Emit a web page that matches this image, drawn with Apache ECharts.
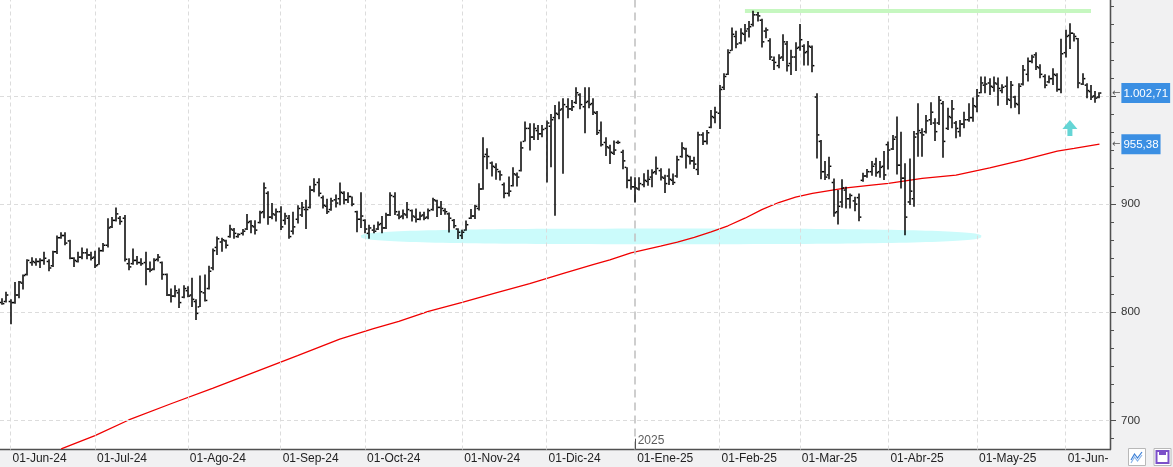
<!DOCTYPE html>
<html><head><meta charset="utf-8">
<script src="https://cdn.jsdelivr.net/npm/echarts@6/dist/echarts.min.js"></script>
<style>html,body{margin:0;padding:0;background:#f1f1f2}#c{width:1173px;height:467px}</style>
</head><body><div id="c"></div>
<script>
// ---------- data ----------
const startDate = '2024-05-30';
const holidays = ['2024-07-04','2024-09-02','2024-11-28','2024-12-25','2025-01-01','2025-01-09','2025-01-20','2025-02-17','2025-04-18','2025-05-26'];
const trailingSlots = 2;
const monthNames = ['Ene','Feb','Mar','Abr','May','Jun','Jul','Ago','Sep','Oct','Nov','Dic'];

const opens = [809,810,810,809,816,827,835,846,846,847,848,847,843,856,869,871,866,850,847,851,855,853,851,844,857,862,879,885,887,887,
845,845,848,846,846,840,840,849,846,835,816,815,818,814,820,816,810,805,818,822,841,860,865,866,870,876,870,873,877,884,
879,883,893,910,888,890,893,885,887,875,886,890,895,897,913,920,906,898,895,904,905,910,904,907,893,886,885,873,876,877,
882,878,890,907,890,889,890,894,888,886,890,888,895,903,897,894,891,885,877,871,876,887,889,896,914,946,938,934,930,918,
910,917,927,931,958,970,962,968,965,970,972,980,983,988,990,988,994,1001,990,995,993,984,968,957,952,947,957,948,934,922,
916,914,918,921,925,930,931,924,926,922,926,944,951,944,940,932,964,958,971,980,984,1008,1020,1042,1055,1049,1057,1062,1066,1075,
1070,1060,1051,1033,1028,1036,1048,1030,1036,1045,1046,1041,1045,999,958,930,927,920,893,902,913,905,903,906,922,926,930,937,930,935,
955,951,962,936,924,902,905,965,966,967,978,975,975,993,970,980,975,967,974,978,980,990,1003,1010,1012,1008,1011,1005,1009,996,
999,992,1011,1020,1032,1038,1026,1018,1013,1016,1019,1006,1040,1056,1058,1053,1011,1010,1004,1000,999];
const highs = [813,819,812,828,829,835,849,851,850,850,856,849,857,871,874,874,867,851,856,860,859,856,857,860,864,887,888,897,889,890,
850,859,852,850,856,847,850,854,847,836,822,825,822,825,824,832,812,834,835,843,859,870,869,867,881,878,873,877,891,885,
885,894,920,912,901,896,898,892,890,893,899,902,904,917,924,924,908,905,906,909,920,912,911,907,894,911,886,881,881,884,
889,892,911,911,894,895,902,895,896,893,893,896,906,904,903,896.3,892.3,886.2,877.8,876.3,884.9,895.4,899.4,919.4,961.8,951.7,939.4,937.8,931.1,920,
925.5,934.2,929.2,957.8,976.3,974.8,974.8,973.2,973.2,977.2,983.4,991.7,994.8,997.8,997.8,996.3,1008,1002.5,1008,1008,997.8,986.2,976.3,961.8,954.8,958.8,958.8,950.2,934.2,925.5,
924.9,924.9,928.6,931.7,932.3,944,933.2,927.1,933,928.4,944.8,957.1,952.2,944.8,943.8,967,966.4,968.5,987,990.1,1010.2,1021,1043.2,1063.3,1060.2,1062.7,1066.4,1069.4,1078.7,1077.5,
1071.3,1063.3,1053.4,1036.4,1038.6,1057.1,1050.9,1042.6,1049.7,1066.4,1047.8,1050.9,1046.6,1002.5,959.3,939.8,943.8,923.8,913,923.1,916,909.9,906.8,909.9,929,932.4,939.8,942.9,939.8,949.1,
958,963.9,980.9,967,937.7,942.3,967.6,993.2,970.1,982.4,994.1,979.3,1000,995.4,989.2,996.3,976.9,977.8,985.5,993.2,998.5,1006.5,1017.9,1017.9,1016.4,1017.9,1017,1010.8,1017.9,1013.9,
1000.3,1011.7,1028.7,1035.5,1038,1040.4,1029.3,1020.1,1018.8,1025.6,1021,1052.8,1061.1,1067.3,1058,1053.5,1021,1011.7,1010.2,1004.6,1003.4];
const lows = [807,809,789,808,813,821,834,843,843,841,844,838,842,854,868,862,849,842,846,849,849,848,841,844,856,860,878,884,881,847,
839,844,844,843,825,837,839,847,830,815,809,814,804,813,814,805,793,805,810,821,839,853,856,859,869,868,869,871,876,873,
872,882,887,881,886,884,876,881,868,872,882,888,877,896,911,907,896,891,894,897,899,900,901,898,874,878,873,868,873,876,
873,877,889,890,886,886,887,884,883,885,885,886,894,888,890,890.2,873.8,877.8,867.7,867.7,875.5,886.2,886.2,894.2,913.2,932.3,925.5,922.5,921.8,905.5,
907.1,916.3,916.3,930.2,957.8,949.5,959.4,959.4,961.8,920,934.2,889.2,978.5,928,979.4,986.2,992.5,987.7,965.5,988.6,982.5,964,953.2,944.6,937.2,945.5,955.7,932.3,914.8,913.2,
901.5,912.6,915.7,916.9,915.7,927.1,921.8,910.2,917.6,917.6,924.4,942.9,933,936.7,932.4,926.9,954.6,955.2,970.1,974.7,969.4,1005.6,1019.4,1041.7,1044.1,1047.8,1050.3,1054,1064.2,1068.8,
1044.8,1053.4,1033.3,1024.1,1025.6,1032.4,1022.5,1019.4,1023.1,1041.7,1028.1,1028.1,1021.9,942.3,923.1,922.2,923.1,888.3,881.2,896.6,896,896,893.5,884.3,920.7,924.4,926.2,925.3,924.4,922.2,
932,950,927.5,914.5,871.3,899.1,897.5,943.8,943.8,965.4,973.1,958.3,973.1,942.9,968.5,970.1,960.8,962.3,970.1,976.2,976.2,984.9,1002.5,1002.5,1000.9,1004,991,1002.5,991.7,988.6,
989.2,983,1009.6,1013.3,1030.2,1024.1,1016.4,1007.1,1011.7,1010.2,1004,1002.5,1035.5,1043.5,1050.3,1007.1,1010.2,997.8,996.3,993.8,997.8];
const closes = [808,816,809,816,828,834,848,847,847,848,850,841,856,869,871,864,850,848,851,855,853,850,843,857,862,878,885,891,884,849,
842,848,846,845,840,839,848,851,835,816,815,820,809,822,815,812,799,819,811,838,857,868,867,862,877,873,872,875,883,880,
876,892,915,888,891,893,879,889,870,879,896,897,895,913,918,910,899,893,903,901,911,904,907,900,886,889,877,878,875,881,
878,890,908,893,888,891,895,889,886,889,887,894,904,897,896,893,887,880,874,874,881,889,898,914,944,944,935,932,927,910,
912,928,925,952,970,962,970,965,969,975,978,984,987,992,988,990,1003,992,994,992,985,966,955,953,948,950,957,940,922,916,
915,919,922,923,929,933,925,919,923,920,941,952,945,940,937,964,958,966,981,985,1006,1018,1040,1057,1048,1058,1060,1064,1075,1074,
1050,1061,1036,1031,1035,1050,1028,1036,1044,1052,1040,1046,1028,964,930,925,935,892,898,915,905,908,900,888,926,930,935,929,934,927,
950,960,936,924,888,912,962,968,964,977,985,967,996,958,981,988,970,974,978,980,991,1000,1012,1011,1009,1012,1007,1008,997,1010,
993,1009,1024,1032,1036,1027,1020,1010,1016,1020,1006,1039,1055,1058,1055,1012,1016,1005,999,998,1002.71];

// 200-session moving average, read at selected sessions [sessionIndex, value]
const maPoints = [[14,673.8],[22,686.1],[30,700.5],[40,715.5],[50,730],[60,745],[70,760],[80,775.3],[88,785],[94,791.7],[101,800.9],
[109,809.3],[117,817.9],[125,826.5],[133,836],[140,844],[144,848.5],[149,855],[156,861.1],[160,864.8],[164,869.3],[168,874.4],
[172,880],[176,887],[180,895],[184,901.5],[188,906.5],[192,909.9],[196,912.5],[200,915],[206,917.5],[210,919.1],[218,923.8],
[226,926.9],[234,933.6],[242,941],[250,949],[254,951.5],[260,955.38]];
const lastPrice = 1002.71;
const lastMA = 955.38;
const resistanceLine = {from: 176, to: 258, value: 1078.5};
const supportZone = {from: 85, to: 232, value: 870.2, half: 7.2};
const arrowMark = [253, 970.4];
const yMin = 673.2, yMax = 1088.7;
const gridLevels = [700, 800, 900, 1000];
const yLabelValues = [700, 800, 900];
const minorStep = 100 / 6;

// ---------- build ----------
function buildDates(start, count) {
  const out = []; const d = new Date(start + 'T00:00:00Z');
  while (out.length < count) {
    const dow = d.getUTCDay(); const s = d.toISOString().slice(0, 10);
    if (dow !== 0 && dow !== 6 && !holidays.includes(s)) out.push(s);
    d.setUTCDate(d.getUTCDate() + 1);
  }
  return out;
}
const cats = buildDates(startDate, opens.length + trailingSlots);
const monthStart = new Set();
for (let i = 1; i < cats.length; i++) if (cats[i].slice(5, 7) !== cats[i - 1].slice(5, 7)) monthStart.add(i);
const yearIdx = cats.findIndex(d => d.startsWith('2025'));
function monthLabel(d) { return '01-' + monthNames[+d.slice(5, 7) - 1] + '-' + d.slice(2, 4); }
function fmtEs(v) { const p = v.toFixed(2).split('.'); return p[0].replace(/\B(?=(\d{3})+(?!\d))/g, '.') + ',' + p[1]; }

const ohlc = opens.map((o, i) => [i, o, highs[i], lows[i], closes[i]]);
const minorVals = [];
for (let v = Math.ceil(yMin / minorStep) * minorStep; v < yMax; v += minorStep) minorVals.push(+v.toFixed(3));

const FONT = 'Liberation Sans';
const dash = {type: [4, 3], color: '#dcdcdc', width: 1};
const gridMarks = [];
gridLevels.forEach(v => gridMarks.push({yAxis: v, lineStyle: dash}));
monthStart.forEach(i => {
  if (i === yearIdx) gridMarks.push({xAxis: cats[i], lineStyle: {type: [8, 5], color: '#c2c2c2', width: 1.6}});
  else gridMarks.push({xAxis: cats[i], lineStyle: dash});
});
gridMarks.push([{coord: [cats[yearIdx], yMin], lineStyle: {type: 'solid', color: '#555', width: 1}}, {coord: [cats[yearIdx], yMin + 10]}]);

function renderOHLC(params, api) {
  const i = api.value(0);
  const pO = api.coord([i, api.value(1)]), pH = api.coord([i, api.value(2)]);
  const pL = api.coord([i, api.value(3)]), pC = api.coord([i, api.value(4)]);
  const x = Math.round(pH[0]);
  const bw = 1.5, tw = 1.6, th = 1.5;
  return {type: 'group', children: [
    {type: 'rect', shape: {x: x - bw / 2, y: pH[1], width: bw, height: Math.max(1, pL[1] - pH[1])}, style: {fill: '#000'}},
    {type: 'rect', shape: {x: x - bw / 2 - tw, y: pO[1] - th / 2, width: tw, height: th}, style: {fill: '#000'}},
    {type: 'rect', shape: {x: x + bw / 2, y: pC[1] - th / 2, width: tw, height: th}, style: {fill: '#000'}}
  ]};
}
function renderZone(params, api) {
  const a = api.coord([api.value(0), api.value(2)]);
  const b = api.coord([api.value(1), api.value(2)]);
  const t = api.coord([api.value(0), api.value(2) + api.value(3)]);
  const cx = (a[0] + b[0]) / 2, rx = (b[0] - a[0]) / 2, cy = a[1], ry = a[1] - t[1];
  const n = 2.8, pts = [];
  for (let k = 0; k < 160; k++) {
    const ang = k / 160 * 2 * Math.PI, c = Math.cos(ang), s = Math.sin(ang);
    pts.push([cx + rx * Math.sign(c) * Math.pow(Math.abs(c), 2 / n), cy + ry * Math.sign(s) * Math.pow(Math.abs(s), 2 / n)]);
  }
  return {type: 'polygon', shape: {points: pts}, style: {fill: '#cbfbfb'}};
}
function priceMark(value) {
  return {silent: true, symbol: ['none', 'none'], animation: false,
    lineStyle: {color: 'rgba(0,0,0,0)', width: 1, type: 'solid'},
    label: {show: true, position: 'end', distance: 2, opacity: 1,
      formatter: p => '{a|←}{b|' + fmtEs(p.value) + '}',
      rich: {a: {fontFamily: 'DejaVu Sans', fontSize: 10, color: '#555', padding: [0, 1, 0, 0]},
             b: {backgroundColor: '#3b8fe3', color: '#fff', fontFamily: FONT, fontSize: 11.5, lineHeight: 13, padding: [5, 2, 3, 2]}}},
    data: [{yAxis: value}]};
}

const chart = echarts.init(document.getElementById('c'), null, {renderer: 'canvas'});
chart.setOption({
  animation: false,
  backgroundColor: '#f1f1f2',
  grid: {left: 0, right: 63, top: 0, bottom: 17.5, show: true, backgroundColor: '#ffffff', borderWidth: 0, containLabel: false, outerBoundsMode: 'none'},
  xAxis: {
    type: 'category', data: cats, boundaryGap: true,
    axisLine: {lineStyle: {color: '#505050', width: 1.3}},
    axisTick: {alignWithLabel: true, interval: i => monthStart.has(i), length: 8, lineStyle: {color: '#505050'}},
    axisLabel: {interval: i => monthStart.has(i), formatter: v => monthLabel(v), align: 'left', padding: [0, 0, 0, 2], margin: 3,
      fontFamily: FONT, fontSize: 12, color: '#222'},
    splitLine: {show: false}
  },
  yAxis: [{
    type: 'value', position: 'right', min: yMin, max: yMax, scale: true,
    axisLine: {show: true, lineStyle: {color: '#505050', width: 1.3}},
    axisTick: {show: true, customValues: gridLevels, length: 6, lineStyle: {color: '#505050'}},
    axisLabel: {customValues: yLabelValues, margin: 11, fontFamily: FONT, fontSize: 11.5, color: '#333'},
    splitLine: {show: false}
  }, {
    type: 'value', position: 'right', min: yMin, max: yMax, scale: true,
    axisLine: {show: true, lineStyle: {color: '#505050', width: 1.3}},
    axisTick: {show: true, customValues: minorVals, length: 4, lineStyle: {color: '#505050'}},
    axisLabel: {show: false}, splitLine: {show: false}
  }],
  series: [
    {type: 'line', data: [], z: 0, silent: true,
     markLine: {silent: true, symbol: ['none', 'none'], label: {show: false}, animation: false, data: gridMarks.concat([
       [{coord: [cats[resistanceLine.from], resistanceLine.value], lineStyle: {type: 'solid', color: '#c6f7c0', width: 4}},
        {coord: [cats[resistanceLine.to], resistanceLine.value]}]
     ])}},
    {type: 'custom', z: 1, silent: true, renderItem: renderZone, encode: {x: [0, 1], y: 2},
     data: [[supportZone.from, supportZone.to, supportZone.value, supportZone.half]]},
    {type: 'line', name: 'MA', z: 3, data: maPoints, showSymbol: false, symbol: 'none', clip: true, silent: true,
     lineStyle: {color: '#f00000', width: 1.3}, markLine: priceMark(lastMA)},
    {type: 'custom', name: 'OHLC', z: 5, renderItem: renderOHLC, encode: {x: 0, y: [1, 2, 3, 4]}, data: ohlc,
     markLine: priceMark(lastPrice)},
    {type: 'scatter', z: 6, silent: true, data: [arrowMark], symbol: 'path://M7.5,0 L15,9 L10,9 L10,16 L5,16 L5,9 L0,9 Z',
     symbolSize: [15, 16], itemStyle: {color: '#3fcaca'}},
    {type: 'scatter', z: 6, silent: true, data: [[yearIdx, yMin + 0.3]], symbolSize: 1, itemStyle: {color: 'rgba(0,0,0,0)'},
     label: {show: true, formatter: String(cats[yearIdx].slice(0, 4)), position: [3, -14], fontFamily: FONT, fontSize: 12, color: '#333'}}
  ],
  graphic: [
    {type: 'rect', z: 100, shape: {x: 1108, y: 451, width: 65, height: 16}, style: {fill: '#f1f1f2'}},
    {type: 'rect', z: 101, shape: {x: 1128.5, y: 448.5, width: 17, height: 17}, style: {fill: '#fff', stroke: '#b8b8b8', lineWidth: 1}},
    {type: 'polyline', z: 102, shape: {points: [[1131, 460], [1134.5, 454], [1137.5, 458], [1142, 452]]}, style: {stroke: '#3b7fd6', lineWidth: 1.2, fill: null}},
    {type: 'polyline', z: 102, shape: {points: [[1131, 463], [1134.5, 457], [1137.5, 461], [1142, 455]]}, style: {stroke: '#8ab4ea', lineWidth: 1.2, fill: null}},
    {type: 'rect', z: 101, shape: {x: 1154, y: 448.5, width: 17, height: 17}, style: {fill: '#fff', stroke: '#b8b8b8', lineWidth: 1}},
    {type: 'rect', z: 102, shape: {x: 1156.5, y: 451, width: 12, height: 12}, style: {fill: '#fff', stroke: '#7b4fc9', lineWidth: 2}},
    {type: 'rect', z: 102, shape: {x: 1159, y: 451, width: 7, height: 4}, style: {fill: '#7b4fc9'}}
  ]
});
</script>
</body></html>
